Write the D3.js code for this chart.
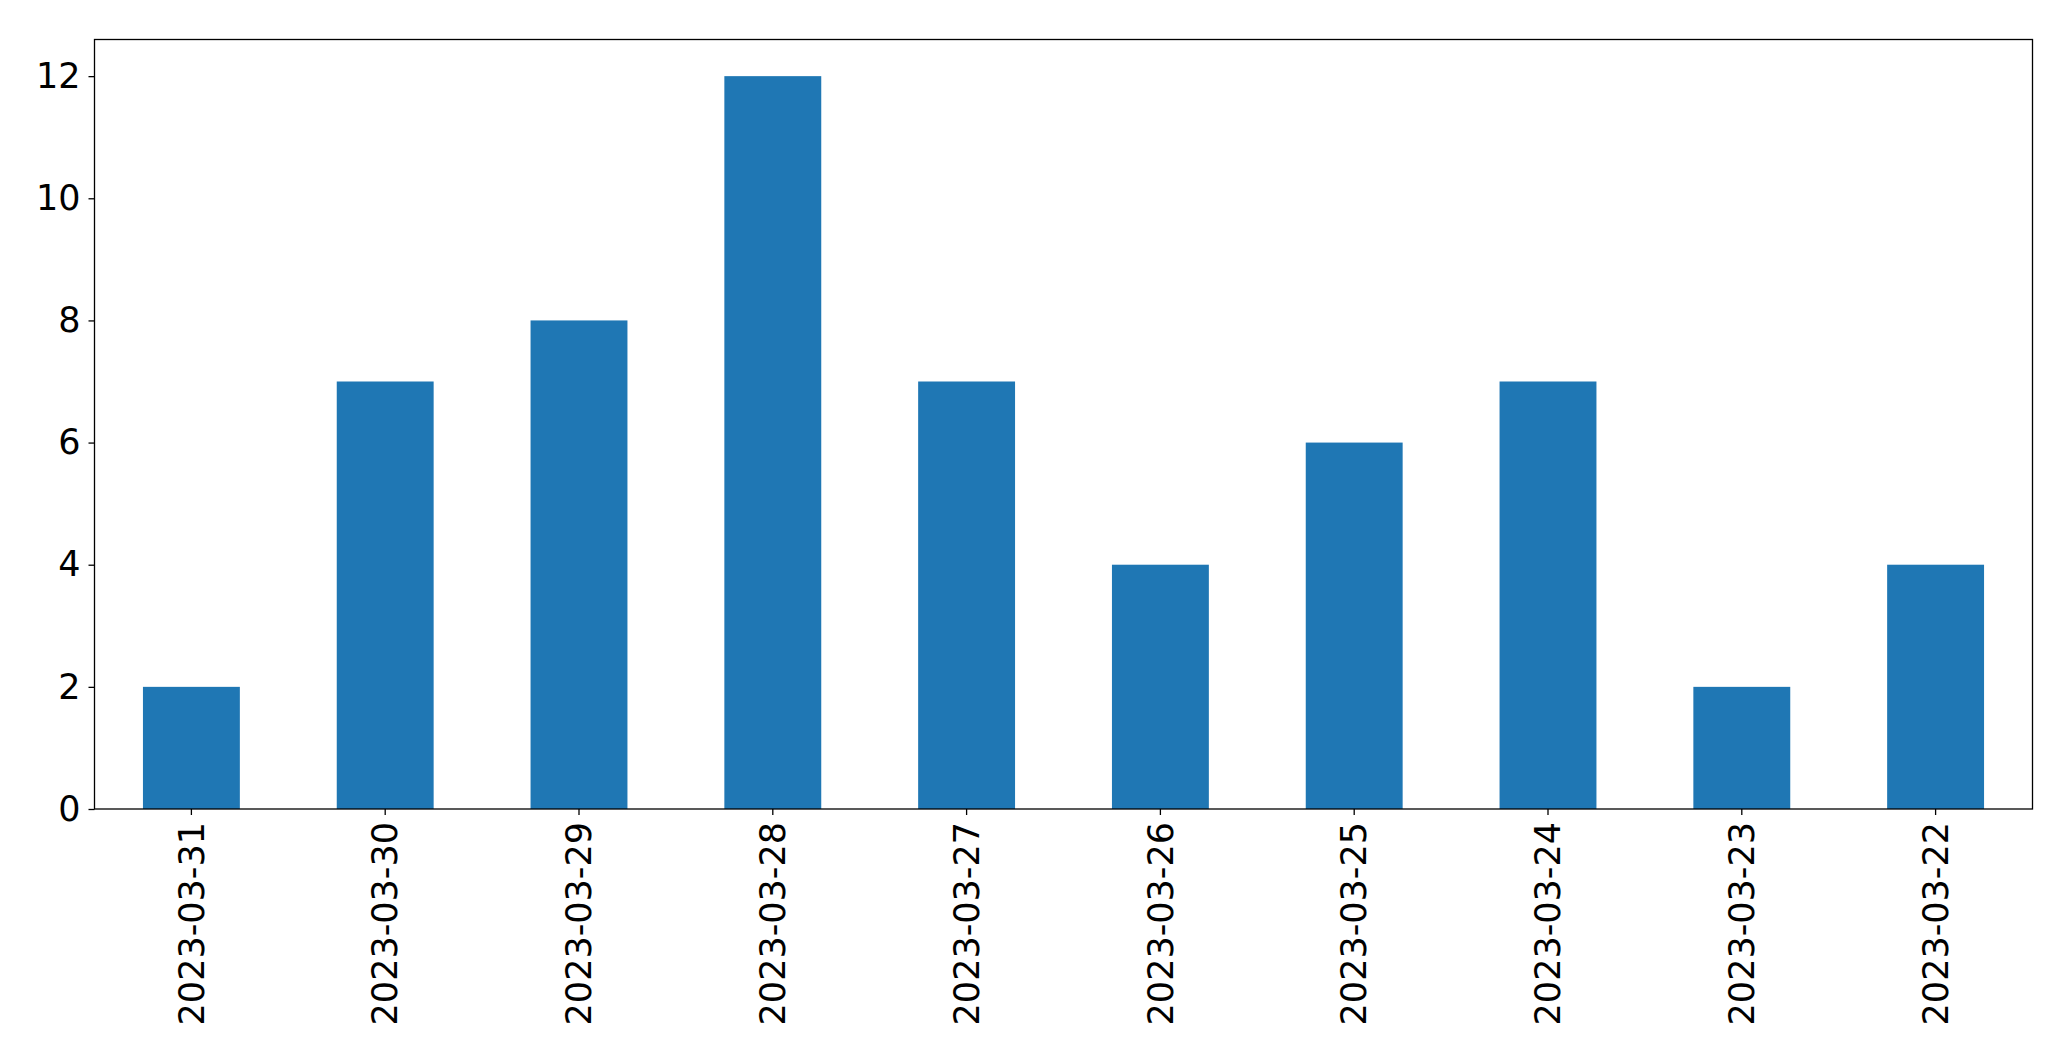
<!DOCTYPE html>
<html>
<head>
<meta charset="utf-8">
<script src="https://cdn.jsdelivr.net/npm/d3@7"></script>
<style>
  body { margin: 0; background: #fff; }
  text { font-family: "DejaVu Sans", sans-serif; }
</style>
</head>
<body>
<svg id="chart"></svg>
<script>
// data
const dates = ['2023-03-31', '2023-03-30', '2023-03-29', '2023-03-28', '2023-03-27',
	'2023-03-26', '2023-03-25', '2023-03-24', '2023-03-23', '2023-03-22']
const counts = [2, 7, 8, 12, 7, 4, 6, 7, 2, 4]
const yTicks = [0, 2, 4, 6, 8, 10, 12]

const width = 2071
const height = 1061
const margin = {top: 39.5, right: 38.5, bottom: 252, left: 94.5}

const svg = d3.select('#chart')
	.attr('width', width)
	.attr('height', height)

const innerW = width - margin.left - margin.right
const innerH = height - margin.top - margin.bottom

const g = svg.append('g')
	.attr('transform', `translate(${margin.left},${margin.top})`)

const x = d3.scaleBand()
	.domain(dates)
	.range([0, innerW])
	.paddingInner(0.5)
	.paddingOuter(0.25)

const y = d3.scaleLinear()
	.domain([0, 12.6])
	.range([innerH, 0])

g.selectAll('.bar')
	.data(dates)
	.enter()
	.append('rect')
	.attr('class', 'bar')
	.attr('x', d => x(d))
	.attr('width', x.bandwidth())
	.attr('y', (d, i) => y(counts[i]))
	.attr('height', (d, i) => innerH - y(counts[i]))
	.style('fill', '#1f77b4')

// frame
g.append('rect')
	.attr('width', innerW)
	.attr('height', innerH)
	.style('fill', 'none')
	.style('stroke', '#000')
	.style('stroke-width', 1.3)

const yAxis = g.append('g')
	.call(d3.axisLeft(y).tickValues(yTicks).tickSize(6).tickPadding(8).tickFormat(d3.format('d')))
yAxis.select('.domain').remove()
yAxis.selectAll('line').style('stroke-width', 1.3)
yAxis.selectAll('text')
	.style('font-size', '35px')
	.style('font-family', '"DejaVu Sans", sans-serif')
	.attr('fill', '#000')

const xAxis = g.append('g')
	.attr('transform', `translate(0,${innerH})`)
	.call(d3.axisBottom(x).tickSize(6).tickPadding(0))
xAxis.select('.domain').remove()
xAxis.selectAll('line').style('stroke-width', 1.3)
xAxis.selectAll('text')
	.style('font-size', '35px')
	.style('font-family', '"DejaVu Sans", sans-serif')
	.attr('fill', '#000')
	.attr('transform', 'rotate(-90)')
	.attr('text-anchor', 'end')
	.attr('dy', '0.35em')
	.attr('x', -13)
	.attr('y', 0)
</script>
</body>
</html>
